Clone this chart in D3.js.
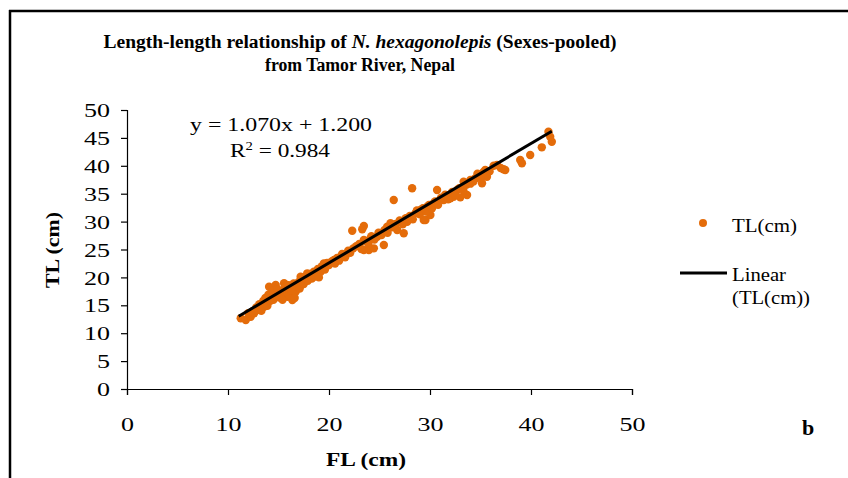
<!DOCTYPE html>
<html><head><meta charset="utf-8">
<script src="https://cdn.jsdelivr.net/npm/d3@7"></script>
<style>body{margin:0;background:#fff;} svg{display:block;}</style>
</head><body><svg id="c" width="848" height="478"></svg>
<script>
// ---- data ----
const fl = [
 11.26,11.76,12.25,12.58,12.91,13.24,13.57,13.90,14.07,14.23,14.56,14.72,15.05,15.55,15.88,16.21,16.37,16.70,
 17.19,17.85,18.51,19.17,19.50,20.49,21.15,21.64,22.30,23.45,23.29,23.45,24.11,24.77,23.45,23.95,24.44,25.43,
 25.76,26.09,26.41,26.75,27.40,27.74,28.06,28.56,29.55,30.04,26.41,28.23,
 29.05,29.38,29.71,30.37,30.70,31.36,32.02,32.34,32.68,33.00,33.67,33.33,34.00,34.49,34.98,35.47,35.15,35.64,
 36.63,37.28,37.45,38.93,39.10,39.92,41.07,41.73,42.06,41.90,
 12.0,12.4,12.8,13.1,13.3,13.5,13.7,13.9,14.0,14.2,14.4,14.5,14.8,14.9,15.1,15.2,15.4,15.5,15.7,15.9,16.0,16.1,
 16.3,16.5,16.6,16.8,17.0,17.1,17.3,17.5,17.7,17.9,18.1,18.3,18.5,18.7,18.9,19.0,19.3,19.6,19.8,20.0,20.3,20.6,
 20.8,21.0,21.3,21.6,21.9,22.1,22.4,22.7,23.0,23.2,23.6,23.9,24.2,24.5,24.9,25.2,25.5,25.8,26.2,26.6,27.0,27.3,
 27.6,28.0,28.3,28.7,29.0,29.3,29.6,29.9,30.2,30.5,30.8,31.1,31.5,31.8,32.2,32.5,32.9,33.3,33.6,34.0,34.3,34.7,
 35.0,35.3,35.9,36.3,37.0
];
const tl = [
 12.67,12.37,12.96,13.57,14.16,14.46,14.75,15.36,18.33,16.85,16.25,18.64,17.44,18.94,16.54,18.33,15.95,17.44,
 20.13,20.73,20.13,21.02,22.52,23.12,23.71,24.01,28.37,29.21,28.62,26.70,27.00,27.29,24.91,24.91,25.21,25.81,
 29.09,29.70,29.39,28.49,27.90,29.98,30.88,31.48,30.29,31.18,33.87,35.97,
 32.08,30.29,32.67,33.28,35.66,33.87,34.17,34.46,35.66,34.35,34.77,37.15,37.46,37.76,38.35,39.25,36.86,38.05,
 40.14,39.37,39.25,41.04,40.45,41.94,43.31,46.11,44.32,45.20,
 13.6,13.9,14.6,15.2,14.0,15.8,16.3,14.9,16.9,15.8,17.6,16.0,16.6,17.9,16.4,17.1,16.0,17.8,18.2,17.2,18.6,16.8,
 17.6,18.9,16.3,18.3,19.2,18.0,19.6,18.8,20.2,19.4,20.6,19.8,21.0,20.4,21.5,20.0,22.0,21.4,22.6,22.2,22.9,22.5,
 23.5,23.0,24.2,23.6,24.8,24.4,25.2,25.6,26.0,25.1,26.5,26.0,27.4,26.8,28.0,27.6,28.5,28.0,29.0,29.6,30.2,29.5,
 30.6,31.0,30.4,32.0,31.3,32.4,31.8,33.0,32.4,33.6,33.0,34.3,34.8,34.0,35.3,34.8,36.0,35.6,36.6,36.8,37.2,38.6,
 37.8,38.9,39.0,40.0,39.6
];
const xTicks = [0,10,20,30,40,50];
const yTicks = [0,5,10,15,20,25,30,35,40,45,50];
const slope = 1.070, intercept = 1.200, r2 = 0.984;
const titleLine1 = ["Length-length relationship of ", "N. hexagonolepis", " (Sexes-pooled)"];
const titleLine2 = "from Tamor River, Nepal";
const xTitle = "FL (cm)", yTitle = "TL (cm)";
const legendLabels = ["TL(cm)", "Linear", "(TL(cm))"];
const panelLabel = "b";

// ---- drawing ----
const FONT = "'Liberation Serif','Times New Roman',serif";
const ORANGE = "#E46C0A";
const svg = d3.select("#c");
svg.append("rect").attr("width",848).attr("height",478).attr("fill","#fff");

// frame (top and left edge visible)
svg.append("line").attr("x1",9).attr("x2",848).attr("y1",11).attr("y2",11).attr("stroke","#000").attr("stroke-width",2.5);
svg.append("line").attr("x1",10).attr("x2",10).attr("y1",10).attr("y2",478).attr("stroke","#000").attr("stroke-width",2.5);

const x = d3.scaleLinear().domain([0,50]).range([127,632]);
const y = d3.scaleLinear().domain([0,50]).range([389,110]);

function fit(sel, w){ sel.attr("textLength", w).attr("lengthAdjust","spacingAndGlyphs"); }

// title
const t1 = svg.append("text").attr("x",360).attr("y",48).attr("text-anchor","middle")
  .attr("font-family",FONT).attr("font-weight","bold").attr("font-size",18.5).attr("fill","#000");
t1.append("tspan").text(titleLine1[0]);
t1.append("tspan").attr("font-style","italic").text(titleLine1[1]);
t1.append("tspan").text(titleLine1[2]);
fit(t1, 513);
svg.append("text").attr("x",360).attr("y",71).attr("text-anchor","middle")
  .attr("font-family",FONT).attr("font-weight","bold").attr("font-size",18.5).attr("fill","#000").text(titleLine2).call(fit,190);

// axes
const xAxis = svg.append("g").attr("transform","translate(0,389)")
  .call(d3.axisBottom(x).tickValues(xTicks).tickSize(6).tickFormat(d3.format("d")));
const yAxis = svg.append("g").attr("transform","translate(127,0)")
  .call(d3.axisLeft(y).tickValues(yTicks).tickSize(6).tickFormat(d3.format("d")));
[xAxis,yAxis].forEach(g=>{
  g.selectAll("path,line").attr("stroke","#000").attr("stroke-width",1.2);
  g.selectAll("text").attr("font-family",FONT).attr("font-size",19).attr("fill","#000");
});
xAxis.selectAll("text").attr("y",0).attr("dy",42).each(function(d){ fit(d3.select(this), String(d).length*13); });
yAxis.selectAll("text").attr("x",-17).attr("dy","0.35em").each(function(d){ fit(d3.select(this), String(d).length*13); });

// axis titles
svg.append("text").attr("x",366).attr("y",466).attr("text-anchor","middle")
  .attr("font-family",FONT).attr("font-weight","bold").attr("font-size",19).text(xTitle).call(fit,80);
svg.append("text").attr("transform","translate(59,250) rotate(-90)").attr("text-anchor","middle")
  .attr("font-family",FONT).attr("font-weight","bold").attr("font-size",19).text(yTitle).call(fit,76);

// points
const pts = fl.map((v,i)=>({fl:v, tl:tl[i]}));
svg.append("g").selectAll("circle").data(pts).join("circle")
  .attr("cx",d=>x(d.fl)).attr("cy",d=>y(d.tl)).attr("r",4.2).attr("fill",ORANGE);

// regression line
const xmin = d3.min(fl)-0.2, xmax = d3.max(fl);
svg.append("line").attr("x1",x(xmin)).attr("y1",y(slope*xmin+intercept))
  .attr("x2",x(xmax)).attr("y2",y(slope*xmax+intercept)).attr("stroke","#000").attr("stroke-width",3);

// equation
svg.append("text").attr("x",190).attr("y",131).attr("font-family",FONT).attr("font-size",19)
  .text(`y = ${slope.toFixed(3)}x + ${intercept.toFixed(3)}`).call(fit,182);
const rt = svg.append("text").attr("x",230).attr("y",157).attr("font-family",FONT).attr("font-size",19);
rt.append("tspan").text("R");
rt.append("tspan").attr("font-size",12).attr("dy",-7).text("2");
rt.append("tspan").attr("dy",7).text(` = ${r2.toFixed(3)}`);
fit(rt, 100);

// legend
svg.append("circle").attr("cx",703).attr("cy",223).attr("r",4).attr("fill",ORANGE);
svg.append("text").attr("x",732).attr("y",232).attr("font-family",FONT).attr("font-size",19).text(legendLabels[0]).call(fit,65);
svg.append("line").attr("x1",680).attr("x2",727).attr("y1",273).attr("y2",273).attr("stroke","#000").attr("stroke-width",3);
svg.append("text").attr("x",732).attr("y",281).attr("font-family",FONT).attr("font-size",19).text(legendLabels[1]).call(fit,54);
svg.append("text").attr("x",732).attr("y",304).attr("font-family",FONT).attr("font-size",19).text(legendLabels[2]).call(fit,78);

// panel label
svg.append("text").attr("x",802).attr("y",435).attr("font-family",FONT).attr("font-weight","bold").attr("font-size",22).text(panelLabel);
</script></body></html>
